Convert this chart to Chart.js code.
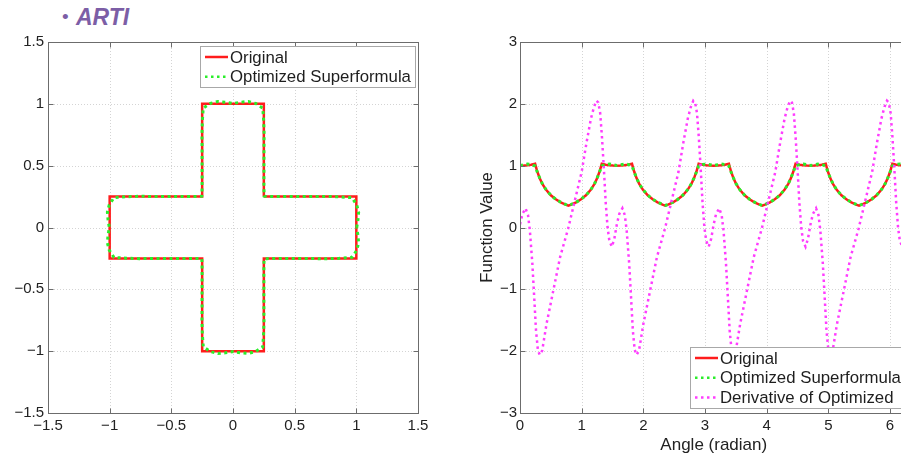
<!DOCTYPE html>
<html>
<head>
<meta charset="utf-8">
<script src="https://cdn.jsdelivr.net/npm/chart.js@4.4.0/dist/chart.umd.min.js"></script>
<style>
  html, body { margin: 0; padding: 0; width: 901px; height: 459px; overflow: hidden; background: #fff; }
  #wrap { position: relative; width: 901px; height: 459px; overflow: hidden; }
  #shapeChart { position: absolute; left: 0; top: 0; }
  #funcChart { position: absolute; left: 450px; top: 0; }
  .head { position: absolute; color: #7c5ea6; font-family: "Liberation Sans", Arial, sans-serif; line-height: 1; }
</style>
</head>
<body>
<div id="wrap">
  <div class="head" style="left:62px; top:7px; font-size:19px;">&bull;</div>
  <div class="head" style="left:76px; top:6px; font-size:23px; font-weight:bold; font-style:italic;">ARTI</div>
  <canvas id="shapeChart" width="450" height="459"></canvas>
  <canvas id="funcChart" width="470" height="459"></canvas>
</div>
<script>
// original cross outline
const crossX = [0.25, 1, 1, 0.25, 0.25, -0.25, -0.25, -1, -1, -0.25, -0.25, 0.25, 0.25];
const crossY = [0.25, 0.25, -0.25, -0.25, -1, -1, -0.25, -0.25, 0.25, 0.25, 1, 1, 0.25];

// radius vs angle
const radiusAngles = [
  0, 0.06, 0.12, 0.18, 0.245, 0.28, 0.32, 0.36, 0.42, 0.50, 0.58, 0.66, 0.74, 0.785, 0.83, 0.91, 0.99, 1.07, 1.15, 1.21, 1.25, 1.29, 1.326, 1.39, 1.45, 1.51,
  1.571, 1.631, 1.691, 1.751, 1.816, 1.851, 1.891, 1.931, 1.991, 2.071, 2.151, 2.231, 2.311, 2.356, 2.401, 2.481, 2.561, 2.641, 2.721, 2.781, 2.821, 2.861, 2.897, 2.961, 3.021, 3.081,
  3.142, 3.202, 3.262, 3.322, 3.387, 3.422, 3.462, 3.502, 3.562, 3.642, 3.722, 3.802, 3.882, 3.927, 3.972, 4.052, 4.132, 4.212, 4.292, 4.352, 4.392, 4.432, 4.468, 4.532, 4.592, 4.652,
  4.712, 4.772, 4.832, 4.892, 4.957, 4.992, 5.032, 5.072, 5.132, 5.212, 5.292, 5.372, 5.452, 5.498, 5.542, 5.622, 5.702, 5.782, 5.862, 5.922, 5.962, 6.002, 6.038, 6.102, 6.162, 6.222,
  6.283
];
const originalRadius = [
  1.000, 1.002, 1.007, 1.016, 1.031, 0.905, 0.795, 0.710, 0.613, 0.521, 0.456, 0.408, 0.371, 0.354, 0.371, 0.408, 0.456, 0.521, 0.613, 0.710, 0.795, 0.905, 1.031, 1.016, 1.007, 1.002,
  1.000, 1.002, 1.007, 1.016, 1.031, 0.905, 0.795, 0.710, 0.613, 0.521, 0.456, 0.408, 0.371, 0.354, 0.371, 0.408, 0.456, 0.521, 0.613, 0.710, 0.795, 0.905, 1.031, 1.016, 1.007, 1.002,
  1.000, 1.002, 1.007, 1.016, 1.031, 0.905, 0.795, 0.710, 0.613, 0.521, 0.456, 0.408, 0.371, 0.354, 0.371, 0.408, 0.456, 0.521, 0.613, 0.710, 0.795, 0.905, 1.031, 1.016, 1.007, 1.002,
  1.000, 1.002, 1.007, 1.016, 1.031, 0.905, 0.795, 0.710, 0.613, 0.521, 0.456, 0.408, 0.371, 0.354, 0.371, 0.408, 0.456, 0.521, 0.613, 0.710, 0.795, 0.905, 1.031, 1.016, 1.007, 1.002,
  1.000
];
const optimizedRadius = [
  1.003, 1.015, 1.026, 1.020, 0.995, 0.898, 0.800, 0.712, 0.615, 0.523, 0.457, 0.409, 0.373, 0.358, 0.373, 0.409, 0.457, 0.523, 0.615, 0.712, 0.800, 0.898, 0.995, 1.020, 1.026, 1.015,
  1.003, 1.015, 1.026, 1.020, 0.995, 0.898, 0.800, 0.712, 0.615, 0.523, 0.457, 0.409, 0.373, 0.358, 0.373, 0.409, 0.457, 0.523, 0.615, 0.712, 0.800, 0.898, 0.995, 1.020, 1.026, 1.015,
  1.003, 1.015, 1.026, 1.020, 0.995, 0.898, 0.800, 0.712, 0.615, 0.523, 0.457, 0.409, 0.373, 0.358, 0.373, 0.409, 0.457, 0.523, 0.615, 0.712, 0.800, 0.898, 0.995, 1.020, 1.026, 1.015,
  1.003, 1.015, 1.026, 1.020, 0.995, 0.898, 0.800, 0.712, 0.615, 0.523, 0.457, 0.409, 0.373, 0.358, 0.373, 0.409, 0.457, 0.523, 0.615, 0.712, 0.800, 0.898, 0.995, 1.020, 1.026, 1.015,
  1.003
];

// derivative of the optimized radius
const derivAngles = [
  0, 0.04, 0.09, 0.13, 0.16, 0.20, 0.23, 0.26, 0.29, 0.32, 0.36, 0.43, 0.54, 0.65, 0.78, 0.89, 1.00, 1.08, 1.15, 1.20, 1.24, 1.27, 1.30, 1.33, 1.36, 1.39, 1.42, 1.45, 1.49, 1.53,
  1.57, 1.61, 1.66, 1.70, 1.73, 1.77, 1.80, 1.83, 1.86, 1.89, 1.93, 2.00, 2.11, 2.22, 2.35, 2.46, 2.57, 2.65, 2.72, 2.77, 2.81, 2.84, 2.87, 2.90, 2.93, 2.96, 2.99, 3.02, 3.06, 3.10,
  3.14, 3.18, 3.23, 3.27, 3.30, 3.34, 3.37, 3.40, 3.43, 3.46, 3.50, 3.57, 3.68, 3.79, 3.92, 4.03, 4.14, 4.22, 4.29, 4.34, 4.38, 4.41, 4.44, 4.47, 4.50, 4.53, 4.56, 4.59, 4.63, 4.67,
  4.71, 4.75, 4.80, 4.84, 4.87, 4.91, 4.94, 4.97, 5.00, 5.03, 5.07, 5.14, 5.25, 5.36, 5.49, 5.60, 5.71, 5.79, 5.86, 5.91, 5.95, 5.98, 6.01, 6.04, 6.07, 6.10, 6.13, 6.16, 6.20, 6.24,
  6.28
];
const derivValues = [
  0.05, 0.22, 0.31, 0.20, -0.05, -0.58, -1.12, -1.67, -1.98, -2.06, -1.99, -1.56, -1.02, -0.48, -0.02, 0.44, 0.90, 1.38, 1.76, 1.95, 2.05, 2.02, 1.85, 1.45, 0.95, 0.40, 0.00, -0.22, -0.31, -0.18,
  0.05, 0.22, 0.31, 0.20, -0.05, -0.58, -1.12, -1.67, -1.98, -2.06, -1.99, -1.56, -1.02, -0.48, -0.02, 0.44, 0.90, 1.38, 1.76, 1.95, 2.05, 2.02, 1.85, 1.45, 0.95, 0.40, 0.00, -0.22, -0.31, -0.18,
  0.05, 0.22, 0.31, 0.20, -0.05, -0.58, -1.12, -1.67, -1.98, -2.06, -1.99, -1.56, -1.02, -0.48, -0.02, 0.44, 0.90, 1.38, 1.76, 1.95, 2.05, 2.02, 1.85, 1.45, 0.95, 0.40, 0.00, -0.22, -0.31, -0.18,
  0.05, 0.22, 0.31, 0.20, -0.05, -0.58, -1.12, -1.67, -1.98, -2.06, -1.99, -1.56, -1.02, -0.48, -0.02, 0.44, 0.90, 1.38, 1.76, 1.95, 2.05, 2.02, 1.85, 1.45, 0.95, 0.40, 0.00, -0.22, -0.31, -0.18,
  0.05
];

const shapeTicks = [-1.5, -1, -0.5, 0, 0.5, 1, 1.5];
const angleTicks = [0, 1, 2, 3, 4, 5, 6];
const valueTicks = [-3, -2, -1, 0, 1, 2, 3];

const FONT = '"Liberation Sans", Arial, Helvetica, sans-serif';
const RED = '#ff1c1c';
const GREEN = '#2aee2a';
const MAGENTA = '#ff3cff';
const DOTS = [2.5, 3.5];
const FIT_DOTS = [3, 3.5];

const minus = v => String(v).replace('-', '\u2212');

function points(xs, ys) {
  return xs.map((v, i) => ({ x: v, y: ys[i] }));
}

// grid, box, inward ticks and an inset legend, drawn the matlab way
function frame(rows, corner) {
  return {
    id: 'frame',
    beforeDatasetsDraw(chart) {
      const { ctx, chartArea: a, scales: { x, y } } = chart;
      ctx.save();
      ctx.strokeStyle = '#d4d4d4';
      ctx.lineWidth = 1;
      ctx.setLineDash([1, 2]);
      ctx.beginPath();
      x.ticks.forEach(t => {
        const px = Math.round(x.getPixelForValue(t.value)) + 0.5;
        ctx.moveTo(px, a.top); ctx.lineTo(px, a.bottom);
      });
      y.ticks.forEach(t => {
        const py = Math.round(y.getPixelForValue(t.value)) + 0.5;
        ctx.moveTo(a.left, py); ctx.lineTo(a.right, py);
      });
      ctx.stroke();
      ctx.restore();
    },
    afterDatasetsDraw(chart) {
      const { ctx, chartArea: a, scales: { x, y } } = chart;
      ctx.save();
      const L = Math.round(a.left) + 0.5, R = Math.round(a.right) + 0.5;
      const T = Math.round(a.top) + 0.5, B = Math.round(a.bottom) + 0.5;
      ctx.strokeStyle = '#6c6c6c';
      ctx.lineWidth = 1;
      ctx.strokeRect(L, T, R - L, B - T);
      ctx.beginPath();
      x.ticks.forEach(t => {
        const px = Math.round(x.getPixelForValue(t.value)) + 0.5;
        ctx.moveTo(px, B); ctx.lineTo(px, B - 5);
        ctx.moveTo(px, T); ctx.lineTo(px, T + 5);
      });
      y.ticks.forEach(t => {
        const py = Math.round(y.getPixelForValue(t.value)) + 0.5;
        ctx.moveTo(L, py); ctx.lineTo(L + 5, py);
        ctx.moveTo(R, py); ctx.lineTo(R - 5, py);
      });
      ctx.stroke();

      // legend
      ctx.font = '16.8px ' + FONT;
      const textW = Math.max(...rows.map(r => ctx.measureText(r.text).width));
      const rowH = 19.7;
      const w = Math.round(textW + 34), h = Math.round(rows.length * rowH + 2);
      const right = Math.round(a.right - 3);
      const top = corner === 'top' ? Math.round(a.top + 4) : Math.round(a.bottom - 5 - h);
      const left = right - w;
      ctx.fillStyle = '#fff';
      ctx.fillRect(left, top, w, h);
      ctx.strokeStyle = '#a8a8a8';
      ctx.strokeRect(left + 0.5, top + 0.5, w, h);
      rows.forEach((r, i) => {
        const cy = top + 11 + i * rowH;
        ctx.strokeStyle = r.color;
        ctx.lineWidth = 2.5;
        ctx.setLineDash(r.dash);
        ctx.beginPath();
        ctx.moveTo(left + 5, cy); ctx.lineTo(left + 28, cy);
        ctx.stroke();
        ctx.setLineDash([]);
        ctx.fillStyle = '#1e1e1e';
        ctx.textAlign = 'left';
        ctx.textBaseline = 'middle';
        ctx.fillText(r.text, left + 30, cy + 1);
      });
      ctx.restore();
    }
  };
}

function axis(min, max, ticks, pad, title) {
  const s = {
    type: 'linear',
    min: min,
    max: max,
    afterBuildTicks: sc => { sc.ticks = ticks.map(v => ({ value: v })); },
    grid: { display: false, drawTicks: false },
    border: { display: false },
    ticks: { padding: pad, color: '#222', font: { family: FONT, size: 15 }, callback: minus, autoSkip: false, maxRotation: 0 }
  };
  if (title) s.title = title;
  return s;
}

const commonOpts = {
  responsive: false,
  animation: false,
  events: [],
  plugins: { legend: { display: false }, tooltip: { enabled: false } }
};

const shapeX = axis(-1.5, 1.5, shapeTicks, 4);
shapeX.afterFit = sc => { sc.height = 46; };
const shapeY = axis(-1.5, 1.5, shapeTicks, 4);
shapeY.afterFit = sc => { sc.width = 48; };

// order: higher value is painted first, so the dotted fit ends up over the red outline
new Chart('shapeChart', {
  type: 'scatter',
  data: {
    datasets: [
      {
        label: 'Original',
        order: 2,
        data: points(crossX, crossY),
        showLine: true, borderColor: RED, borderWidth: 2.5, pointRadius: 0, tension: 0
      },
      {
        label: 'Optimized Superformula',
        order: 1,
        data: points(
          optimizedRadius.map((r, i) => r * Math.cos(radiusAngles[i])),
          optimizedRadius.map((r, i) => r * Math.sin(radiusAngles[i]))
        ),
        showLine: true, borderColor: GREEN, borderWidth: 3, borderDash: FIT_DOTS, pointRadius: 0, tension: 0
      }
    ]
  },
  options: Object.assign({}, commonOpts, {
    layout: { padding: { top: 42, right: 32, left: 0, bottom: 0 } },
    scales: { x: shapeX, y: shapeY }
  }),
  plugins: [frame([
    { text: 'Original', color: RED, dash: [] },
    { text: 'Optimized Superformula', color: GREEN, dash: DOTS }
  ], 'top')]
});

const angleX = axis(0, 2 * Math.PI, angleTicks, 4, {
  display: true, text: 'Angle (radian)', color: '#222',
  font: { family: FONT, size: 17 }, padding: { top: 0, bottom: 3 }
});
angleX.afterFit = sc => { sc.height = 46; };
const valueY = axis(-3, 3, valueTicks, 3, {
  display: true, text: 'Function Value', color: '#222',
  font: { family: FONT, size: 16.8 }, padding: { top: 27, bottom: 0 }
});
valueY.afterFit = sc => { sc.width = 70; };

new Chart('funcChart', {
  type: 'scatter',
  data: {
    datasets: [
      {
        label: 'Original',
        order: 2,
        data: points(radiusAngles, originalRadius),
        showLine: true, borderColor: RED, borderWidth: 2.5, pointRadius: 0, tension: 0
      },
      {
        label: 'Optimized Superformula',
        order: 1,
        data: points(radiusAngles, optimizedRadius),
        showLine: true, borderColor: GREEN, borderWidth: 3, borderDash: FIT_DOTS, pointRadius: 0, tension: 0
      },
      {
        label: 'Derivative of Optimized',
        order: 0,
        data: points(derivAngles, derivValues),
        showLine: true, borderColor: MAGENTA, borderWidth: 2.5, borderDash: DOTS, pointRadius: 0, tension: 0
      }
    ]
  },
  options: Object.assign({}, commonOpts, {
    layout: { padding: { top: 42, right: 12.5, left: 0, bottom: 0 } },
    scales: { x: angleX, y: valueY }
  }),
  plugins: [frame([
    { text: 'Original', color: RED, dash: [] },
    { text: 'Optimized Superformula', color: GREEN, dash: DOTS },
    { text: 'Derivative of Optimized', color: MAGENTA, dash: DOTS }
  ], 'bottom')]
});
</script>
</body>
</html>
